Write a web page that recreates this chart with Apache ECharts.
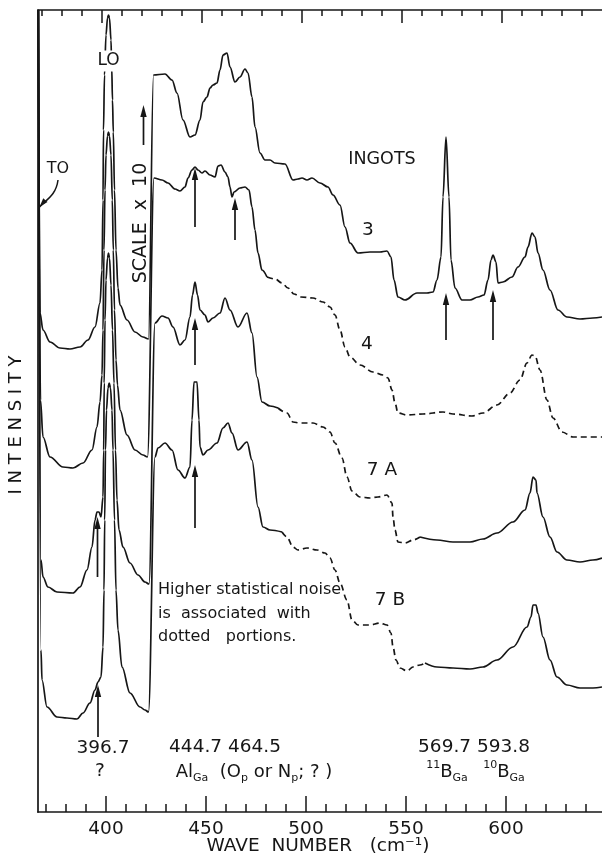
<!DOCTYPE html>
<html><head><meta charset="utf-8">
<script src="https://cdn.jsdelivr.net/npm/echarts@6/dist/echarts.min.js"></script>
<style>html,body{margin:0;padding:0;background:#fff}#c{width:602px;height:857px}</style>
</head><body><div id="c"></div>
<script>
// ---------- data (wave number cm^-1, intensity in arbitrary offset units) ----------
const wave3 = [366.2, 367.0, 368.5, 372, 377, 382, 387, 391, 394.5, 397,
 398, 398.5, 398.75, 399.25, 400, 400.75, 401.25, 401.75, 402.5, 402.85,
 403.25, 403.65, 404.25, 405, 406, 407, 410.5, 414.5, 418.5, 421.25,
 423.75, 429.5, 433, 435.5, 438.5, 442, 444.5, 447, 448.5, 450.5,
 452, 453.5, 455.5, 457, 458.5, 460.5, 462, 464.5, 467, 469.5,
 471, 473, 474.5, 477, 479.5, 482, 484.5, 489.5, 493.5, 496,
 498, 500.5, 503, 507, 511, 513.5, 517, 519.5, 522, 526,
 532, 537, 540.5, 542.5, 544, 546, 549.5, 555.5, 560.5, 563.5,
 565.5, 567.5, 568.5, 570, 571.5, 572.5, 574.5, 578, 582, 586,
 589, 591, 592.5, 593.5, 595, 596, 598.5, 603, 606, 609.5,
 611, 613, 614.5, 616, 618.5, 622, 626, 630.5, 637, 643.5,
 648];
const int3 = [810, 507, 490, 478, 472, 471, 473, 480, 493, 517,
 550, 620, 690, 745, 785, 802, 805, 802, 780, 753,
 720, 688, 630, 570, 532, 515, 500, 488, 483, 481,
 745, 746, 740, 727, 700, 683, 685, 700, 718, 723,
 732, 735, 737, 750, 765, 767, 753, 738, 743, 751,
 747, 723, 693, 667, 660, 660, 657, 656, 640, 641,
 642, 640, 642, 637, 633, 625, 615, 593, 577, 567,
 568, 568, 569, 563, 540, 523, 520, 527, 527, 528,
 540, 563, 623, 683, 623, 560, 532, 520, 520, 523,
 525, 540, 560, 565, 558, 537, 538, 543, 553, 563,
 573, 587, 583, 567, 550, 530, 510, 503, 501, 502,
 503];

const wave4 = [366.2, 367.25, 368.5, 372, 378.5, 383.5, 388.5, 393, 395.5, 397,
 398, 398.5, 399, 399.5, 400, 400.75, 401.25, 401.75, 402.5, 403.15,
 403.65, 404.25, 405, 405.75, 407, 410.5, 414.5, 418.5, 420.75, 424,
 428, 431, 434.5, 437, 439.5, 441, 443, 444.5, 446, 448,
 449.5, 452, 454.5, 456, 457.5, 459.5, 461, 462, 463, 464,
 467, 469.5, 471.5, 473, 474.5, 476, 478, 480.5, 484.5, 488,
 491, 494, 497.5, 503.5, 508.5, 512, 514.5, 517, 519.5, 522,
 527, 533.5, 538.5, 541, 543, 544.5, 546, 550.5, 558.5, 568.5,
 573.5, 583, 588.5, 595.5, 602, 607, 610.5, 613, 614.5, 617,
 620.5, 623.5, 628, 633.5, 640.5, 648];
const int4 = [810, 420, 383, 363, 353, 352, 357, 370, 393, 418,
 445, 490, 570, 630, 665, 684, 688, 684, 665, 620,
 570, 510, 460, 435, 410, 385, 370, 365, 363, 642,
 640, 637, 631, 629, 633, 642, 650, 653, 650, 647,
 649, 645, 643, 654, 655, 648, 643, 633, 623, 628,
 632, 633, 630, 613, 590, 567, 550, 543, 541, 537,
 532, 526, 523, 522, 518, 513, 505, 490, 473, 463,
 455, 448, 445, 442, 430, 417, 407, 405, 406, 408,
 406, 404, 407, 415, 427, 440, 457, 465, 464, 450,
 420, 402, 388, 383, 383, 383];

const wave7A = [366.2, 367.5, 368.5, 371, 375.5, 383.5, 387, 390.5, 393, 394.5,
 395.5, 396.5, 397.5, 398.5, 398.85, 399.1, 399.5, 400, 400.75, 401.25,
 401.75, 402.5, 403.25, 404, 404.75, 405.5, 406.5, 408.5, 412, 416,
 419.5, 421.5, 424.5, 428, 431, 433.5, 437, 439.5, 442, 443.25,
 444.5, 445.75, 447, 449.5, 451, 453.5, 457, 459.5, 462, 466,
 470.5, 473, 475.5, 478, 482, 486, 490.5, 493.5, 497, 503.5,
 508.5, 512, 514.5, 518, 520.5, 523, 527, 532, 536, 540.5,
 543, 543.5, 544.5, 546, 549.5, 553.5, 557, 565.5, 573.5, 582,
 588.5, 595.5, 603.5, 609.5, 612, 613.5, 615, 615.5, 618.5, 622,
 625.5, 630.5, 637, 643.5, 648];
const int7A = [810, 260, 243, 233, 228, 227, 233, 250, 273, 300,
 308, 308, 303, 323, 370, 437, 500, 540, 562, 567,
 562, 535, 490, 437, 370, 320, 290, 273, 257, 245,
 238, 236, 497, 504, 502, 493, 475, 480, 503, 525,
 538, 525, 510, 505, 498, 502, 507, 522, 510, 493,
 507, 487, 443, 418, 414, 412, 407, 398, 397, 397,
 393, 388, 377, 362, 343, 329, 323, 322, 323, 325,
 317, 303, 290, 278, 277, 280, 283, 280, 278, 278,
 281, 287, 298, 310, 327, 343, 340, 327, 303, 283,
 268, 260, 258, 260, 262];

const wave7B = [366.2, 367.5, 368, 370.5, 375.5, 380.5, 385.5, 388.5, 392, 394.5,
 396, 397.5, 398.5, 399, 399.35, 399.75, 400.25, 401, 401.6, 402.25,
 403, 403.5, 404.25, 405, 406, 408, 412, 417, 419.5, 421.25,
 424.5, 426, 429.5, 433, 436, 439.5, 442, 443, 444, 445.5,
 446.5, 447, 448.5, 451, 455.5, 458.5, 461, 463, 466, 470.5,
 473, 476, 478.5, 482, 488, 490.5, 493.5, 496, 500.5, 505.5,
 509.5, 512, 514.5, 517, 520.5, 523, 526, 532, 537, 540.5,
 542.5, 543.5, 545, 547, 550.5, 553.5, 557, 559.5, 565.5, 573.5,
 582, 588.5, 595.5, 603.5, 610.5, 612.5, 613.5, 615, 616, 618.5,
 622, 625.5, 630.5, 637, 643.5, 648];
const int7B = [810, 170, 140, 113, 103, 102, 101, 107, 117, 130,
 138, 143, 173, 230, 300, 370, 410, 432, 437, 432,
 410, 370, 300, 230, 190, 153, 127, 113, 110, 108,
 363, 372, 377, 370, 350, 342, 353, 400, 438, 438,
 400, 373, 365, 370, 377, 392, 397, 387, 370, 378,
 360, 313, 293, 290, 288, 283, 273, 270, 272, 270,
 267, 262, 250, 237, 220, 200, 195, 195, 197, 195,
 187, 173, 160, 152, 149, 153, 155, 157, 153, 152,
 151, 153, 160, 173, 193, 203, 215, 215, 207, 183,
 160, 143, 135, 132, 132, 133];

// noisy (dotted) wave-number ranges of each trace
const dashed4 = [480.5, 648];
const dashed7A = [486, 557];
const dashed7B = [488, 559.5];

// axis ticks
const minorTicks = [370, 380, 390, 400, 410, 420, 430, 440, 450, 460, 470, 480, 490, 500, 510, 520, 530, 540, 550, 560, 570, 580, 590, 600, 610, 620, 630, 640];
const majorTicks = [400, 450, 500, 550, 600];

// marker arrows: wave number, tail intensity, tip intensity
const arrowWave = [570, 593.5, 444.5, 464.5, 444.5, 444.5, 395.75, 396, 418.75];
const arrowTail = [480, 480, 593, 580, 455, 292, 243, 83, 675];
const arrowTip  = [527, 530, 652, 622, 502, 355, 303, 135, 715];

// ---------- chart ----------
const INK = '#161616';
const FONT = '"DejaVu Sans", "Liberation Sans", sans-serif';
const chart = echarts.init(document.getElementById('c'), null, {renderer: 'canvas'});

function pts(w, v, lo, hi) {
  const o = [];
  for (let i = 0; i < w.length; i++) if (w[i] >= lo && w[i] <= hi) o.push([w[i], v[i]]);
  return o;
}
function lineSeries(data, dashed) {
  return {type: 'line', data: data, xAxisIndex: 0, yAxisIndex: 0, showSymbol: false, symbol: 'none',
    smooth: 0.35, smoothMonotone: 'x', clip: true, silent: true, z: 3,
    lineStyle: {color: INK, width: 1.7, type: dashed ? [6, 4] : 'solid'}};
}
function xAx(pos, min, max, ticks, len, showLine, labels) {
  return {type: 'value', position: pos, min: min, max: max, gridIndex: 0,
    axisLine: {show: showLine, onZero: false, lineStyle: {color: INK, width: 1.7}},
    axisTick: {show: true, inside: true, length: len, customValues: ticks, lineStyle: {color: INK, width: 1.5}},
    axisLabel: labels ? {show: true, customValues: majorTicks, margin: 8, fontSize: 18.5, fontFamily: FONT, color: INK}
                      : {show: false},
    splitLine: {show: false}, minorTick: {show: false}};
}

const series = [
  lineSeries(pts(wave3, int3, 0, 9999)),
  lineSeries(pts(wave4, int4, 0, dashed4[0])),
  lineSeries(pts(wave4, int4, dashed4[0], dashed4[1]), true),
  lineSeries(pts(wave7A, int7A, 0, dashed7A[0])),
  lineSeries(pts(wave7A, int7A, dashed7A[0], dashed7A[1]), true),
  lineSeries(pts(wave7A, int7A, dashed7A[1], 9999)),
  lineSeries(pts(wave7B, int7B, 0, dashed7B[0])),
  lineSeries(pts(wave7B, int7B, dashed7B[0], dashed7B[1]), true),
  lineSeries(pts(wave7B, int7B, dashed7B[1], 9999)),
  {type: 'custom', xAxisIndex: 0, yAxisIndex: 0, silent: true, clip: false, z: 4,
   data: arrowWave.map((w, i) => [w, arrowTail[i], arrowTip[i]]),
   encode: {x: 0, y: [1, 2]},
   renderItem: function (params, api) {
     const tail = api.coord([api.value(0), api.value(1)]);
     const tip = api.coord([api.value(0), api.value(2)]);
     const L = 12, W = 3.2;
     return {type: 'group', children: [
       {type: 'line', shape: {x1: tail[0], y1: tail[1], x2: tip[0], y2: tip[1] + L - 1},
        style: {stroke: INK, lineWidth: 1.7}},
       {type: 'polygon', shape: {points: [[tip[0], tip[1]], [tip[0] - W, tip[1] + L], [tip[0] + W, tip[1] + L]]},
        style: {fill: INK}}
     ]};
   }}
];

chart.setOption({
  animation: false,
  backgroundColor: '#ffffff',
  grid: {left: 38, right: 0, top: 10, bottom: 45, containLabel: false},
  xAxis: [
    xAx('bottom', 366, 648, minorTicks, 8, true, true),
    xAx('bottom', 366, 648, majorTicks, 16, false, false),
    xAx('top', 368, 650, minorTicks, 6, true, false),
    xAx('top', 368, 650, majorTicks, 13, false, false)
  ],
  yAxis: {type: 'value', min: 8, max: 810, axisLine: {show: true, onZero: false, lineStyle: {color: INK, width: 1.7}},
          axisTick: {show: false}, axisLabel: {show: false}, splitLine: {show: false}},
  series: series
});

// ---------- annotations ----------
const P = (w, v) => chart.convertToPixel({xAxisIndex: 0, yAxisIndex: 0}, [w, v]);
function txt(p, text, size, extra) {
  return Object.assign({type: 'text', x: p[0], y: p[1], z: 10, silent: true,
    style: {text: text, fontSize: size, fontFamily: FONT, fill: INK, align: 'center', verticalAlign: 'middle'}}, extra || {});
}
const g = [];
const lo = txt(P(401.25, 759), 'LO', 17);
lo.style.backgroundColor = '#fff'; lo.style.padding = [2, 1];
g.push(lo);
g.push(txt(P(376, 651), 'TO', 16));
// curved TO pointer
const t0 = P(376, 640), t1 = P(366.75, 613);
const c1 = [t0[0] - 2, t0[1] + 16], c2 = [t1[0] + 6, t1[1] - 7];
g.push({type: 'bezierCurve', z: 10, silent: true,
  shape: {x1: t0[0], y1: t0[1], x2: t1[0], y2: t1[1], cpx1: c1[0], cpy1: c1[1], cpx2: c2[0], cpy2: c2[1]},
  style: {stroke: INK, lineWidth: 1.5, fill: null}});
(function () {
  const dx = t1[0] - c2[0], dy = t1[1] - c2[1], n = Math.hypot(dx, dy), ux = dx / n, uy = dy / n;
  const bx = t1[0] - ux * 9, by = t1[1] - uy * 9;
  g.push({type: 'polygon', z: 10, silent: true,
    shape: {points: [[t1[0], t1[1]], [bx - uy * 2.8, by + ux * 2.8], [bx + uy * 2.8, by - ux * 2.8]]},
    style: {fill: INK}});
})();
g.push(txt(P(417.5, 597), 'SCALE  x  10', 19, {rotation: Math.PI / 2}));
g.push(txt(P(538, 661), 'INGOTS', 17.5));
g.push(txt(P(531, 590), '3', 18.5));
g.push(txt(P(530.5, 476), '4', 18.5));
g.push(txt(P(538, 350), '7 A', 18.5));
g.push(txt(P(542, 220), '7 B', 18.5));
const noteLeft = P(426, 230)[0];
[['Higher statistical noise', 230], ['is  associated  with', 206], ['dotted   portions.', 183]].forEach(function (l) {
  const p = P(426, l[1]);
  g.push(txt([noteLeft, p[1]], l[0], 16, {style: {text: l[0], fontSize: 16, fontFamily: FONT, fill: INK, align: 'left', verticalAlign: 'middle'}}));
});
g.push(txt(P(398.5, 72), '396.7', 18.5));
g.push(txt(P(397, 49), '?', 18.5));
g.push(txt(P(459.5, 73), '444.7 464.5', 18.5));
g.push(txt(P(584, 73), '569.7 593.8', 18.5));
const rich = {
  n: {fontSize: 18, fontFamily: FONT, fill: INK, verticalAlign: 'middle', lineHeight: 24},
  s: {fontSize: 11, fontFamily: FONT, fill: INK, verticalAlign: 'bottom', lineHeight: 11},
  u: {fontSize: 11, fontFamily: FONT, fill: INK, verticalAlign: 'top', lineHeight: 11}
};
function richTxt(p, text) {
  return {type: 'text', x: p[0], y: p[1], z: 10, silent: true,
    style: {text: text, rich: rich, fontSize: 18, fontFamily: FONT, fill: INK, align: 'center', verticalAlign: 'middle'}};
}
g.push(richTxt(P(474, 48), '{n|Al}{s|Ga}{n|  (O}{s|p}{n| or N}{s|p}{n|; ? )}'));
g.push(richTxt(P(570.5, 48), '{u|11}{n|B}{s|Ga}'));
g.push(richTxt(P(599, 48), '{u|10}{n|B}{s|Ga}'));
// axis titles
g.push({type: 'text', x: 16, y: 425, rotation: Math.PI / 2, z: 10, silent: true,
  style: {text: 'I N T E N S I T Y', fontSize: 18, fontFamily: FONT, fill: INK, align: 'center', verticalAlign: 'middle'}});
g.push({type: 'text', x: 318, y: 846, z: 10, silent: true,
  style: {text: 'WAVE  NUMBER   (cm\u207B\u00B9)', fontSize: 18.5, fontFamily: FONT, fill: INK, align: 'center', verticalAlign: 'middle'}});

chart.setOption({graphic: {elements: g}});
</script>
</body></html>
